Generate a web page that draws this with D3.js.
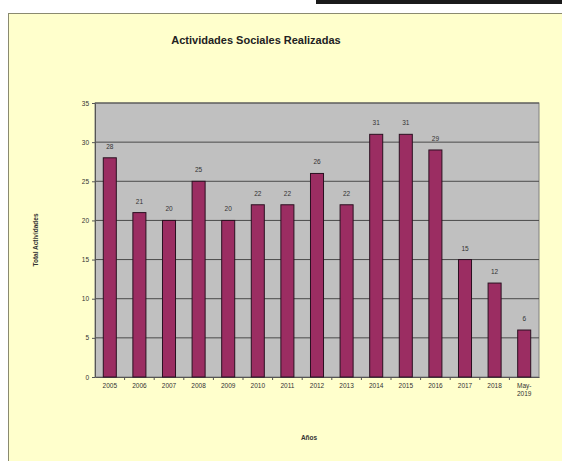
<!DOCTYPE html>
<html>
<head>
<meta charset="utf-8">
<script src="https://cdn.jsdelivr.net/npm/d3@7"></script>
<style>
  body { margin: 0; background: #fff; }
  text { font-family: Arial, "Liberation Sans", sans-serif; }
</style>
</head>
<body>
<div class="chart"></div>
<script>
// data
var years = ["2005", "2006", "2007", "2008", "2009", "2010", "2011", "2012",
             "2013", "2014", "2015", "2016", "2017", "2018", "May-2019"];
var totals = [28, 21, 20, 25, 20, 22, 22, 26, 22, 31, 31, 29, 15, 12, 6];
var yTicks = [0, 5, 10, 15, 20, 25, 30, 35];

var svgWidth = 562, svgHeight = 461;
var margin = { top: 103, bottom: 84, left: 95, right: 23 };
var width = svgWidth - margin.left - margin.right;
var height = svgHeight - margin.top - margin.bottom;

var svg = d3.select(".chart").append("svg")
    .attr("width", svgWidth)
    .attr("height", svgHeight);

// dark strip at the top right (part of the screenshot)
svg.append("rect").attr("x", 316).attr("y", 0).attr("width", 246).attr("height", 4).attr("fill", "#1a1a1a");

// chart area
svg.append("rect")
    .attr("x", 8.5).attr("y", 13.5)
    .attr("width", 560).attr("height", 455)
    .attr("fill", "#ffffcc")
    .attr("stroke", "#8a8a70");

svg.append("text")
    .attr("x", 256).attr("y", 44)
    .attr("text-anchor", "middle")
    .attr("font-size", 11).attr("font-weight", "bold")
    .attr("fill", "#222")
    .text("Actividades Sociales Realizadas");

var chartGroup = svg.append("g")
    .attr("transform", `translate(${margin.left}, ${margin.top})`);

var xScale = d3.scaleBand().domain(years).range([0, width]).paddingInner(0.56).paddingOuter(0.28);
var yScale = d3.scaleLinear().domain([0, 35]).range([height, 0]);

chartGroup.append("rect")
    .attr("width", width).attr("height", height)
    .attr("fill", "#c0c0c0")
    .attr("stroke", "#808080");

// gridlines
chartGroup.selectAll(".grid").data(yTicks.slice(1)).enter()
    .append("line")
    .attr("x1", 0).attr("x2", width)
    .attr("y1", d => yScale(d)).attr("y2", d => yScale(d))
    .attr("stroke", "#4a4a4a").attr("stroke-width", 1);

// y axis
var yAxis = chartGroup.append("g")
    .call(d3.axisLeft(yScale).tickValues(yTicks).tickSize(3).tickSizeOuter(0));
yAxis.select(".domain").attr("stroke", "#555");
yAxis.selectAll("line").attr("stroke", "#555");
yAxis.selectAll("text").attr("font-size", 6.5).attr("fill", "#333");

// x axis
var xAxis = chartGroup.append("g")
    .attr("transform", `translate(0, ${height})`)
    .call(d3.axisBottom(xScale).tickSize(0).tickSizeOuter(0));
xAxis.select(".domain").attr("stroke", "#555");
xAxis.selectAll("text").attr("font-size", 6.5).attr("fill", "#333").attr("dy", "1.3em")
    .each(function (d) {
        var parts = d.split("-");
        if (parts.length > 1) {
            var t = d3.select(this).text("");
            t.append("tspan").attr("x", 0).text(parts[0] + "-");
            t.append("tspan").attr("x", 0).attr("dy", "1.2em").text(parts[1]);
        }
    });
// small ticks between categories
chartGroup.selectAll(".xtick").data(years.slice(1)).enter()
    .append("line")
    .attr("x1", d => xScale(d) - xScale.step() * xScale.paddingInner() / 2)
    .attr("x2", d => xScale(d) - xScale.step() * xScale.paddingInner() / 2)
    .attr("y1", height).attr("y2", height + 3)
    .attr("stroke", "#555");

// bars
chartGroup.selectAll(".bar").data(totals).enter()
    .append("rect")
    .attr("x", (d, i) => xScale(years[i]))
    .attr("y", d => yScale(d))
    .attr("width", xScale.bandwidth())
    .attr("height", d => height - yScale(d))
    .attr("fill", "#9b2d62")
    .attr("stroke", "#2a1020").attr("stroke-width", 1);

// value labels
chartGroup.selectAll(".val").data(totals).enter()
    .append("text")
    .attr("x", (d, i) => xScale(years[i]) + xScale.bandwidth() / 2)
    .attr("y", d => yScale(d) - 9)
    .attr("text-anchor", "middle")
    .attr("font-size", 6.5).attr("fill", "#333")
    .text(d => d);

// axis titles
svg.append("text")
    .attr("transform", "translate(38, 240) rotate(-90)")
    .attr("text-anchor", "middle")
    .attr("font-size", 6.5).attr("font-weight", "bold").attr("fill", "#333")
    .text("Total Actividades");

svg.append("text")
    .attr("x", 309).attr("y", 440)
    .attr("text-anchor", "middle")
    .attr("font-size", 6.5).attr("font-weight", "bold").attr("fill", "#333")
    .text("Años");
</script>
</body>
</html>
